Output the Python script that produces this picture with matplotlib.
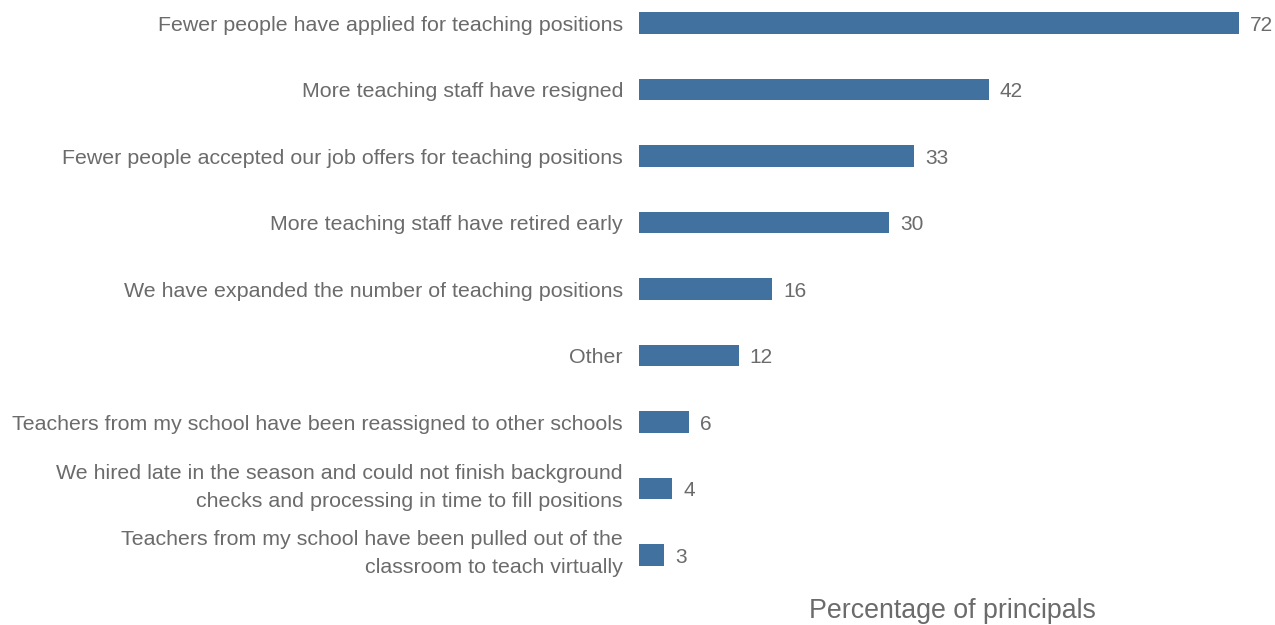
import matplotlib.pyplot as plt

categories = [
    "Fewer people have applied for teaching positions",
    "More teaching staff have resigned",
    "Fewer people accepted our job offers for teaching positions",
    "More teaching staff have retired early",
    "We have expanded the number of teaching positions",
    "Other",
    "Teachers from my school have been reassigned to other schools",
    "We hired late in the season and could not finish background\nchecks and processing in time to fill positions",
    "Teachers from my school have been pulled out of the\nclassroom to teach virtually",
]
values = [72, 42, 33, 30, 16, 12, 6, 4, 3]

bar_color = "#41729f"
text_color = "#6b6b6b"
plt.rcParams['font.family'] = ['Liberation Sans', 'DejaVu Sans']

fig = plt.figure(figsize=(12.75, 6.25), dpi=100)
ax = fig.add_axes([639 / 1275, 35 / 625, 600 / 1275, 590 / 625])

pos = list(range(len(values)))
ax.barh(pos, values, height=0.33, color=bar_color)
ax.set_xlim(0, 72)
ax.set_ylim(8.526, -0.346)

for y, v in zip(pos, values):
    ax.text(v + 1.3, y + 0.03, str(v), va="center", ha="left",
            fontsize=15, color=text_color, clip_on=False)

# category labels, two-line ones nudged up a little
for y, cat in zip(pos, categories):
    dy = -0.12 if "\n" in cat else 0
    ax.text(-16 / 600, y + dy, cat, transform=ax.get_yaxis_transform(),
            ha="right", va="center_baseline", fontsize=15.4, color=text_color,
            linespacing=1.6, clip_on=False)

ax.set_yticks([])
ax.set_xticks([])
for s in ax.spines.values():
    s.set_visible(False)

fig.text(952 / 1275, 1 - 611 / 625, "Percentage of principals",
         ha="center", va="center", fontsize=19.3, color=text_color)

fig.savefig("out.png", dpi=100)
